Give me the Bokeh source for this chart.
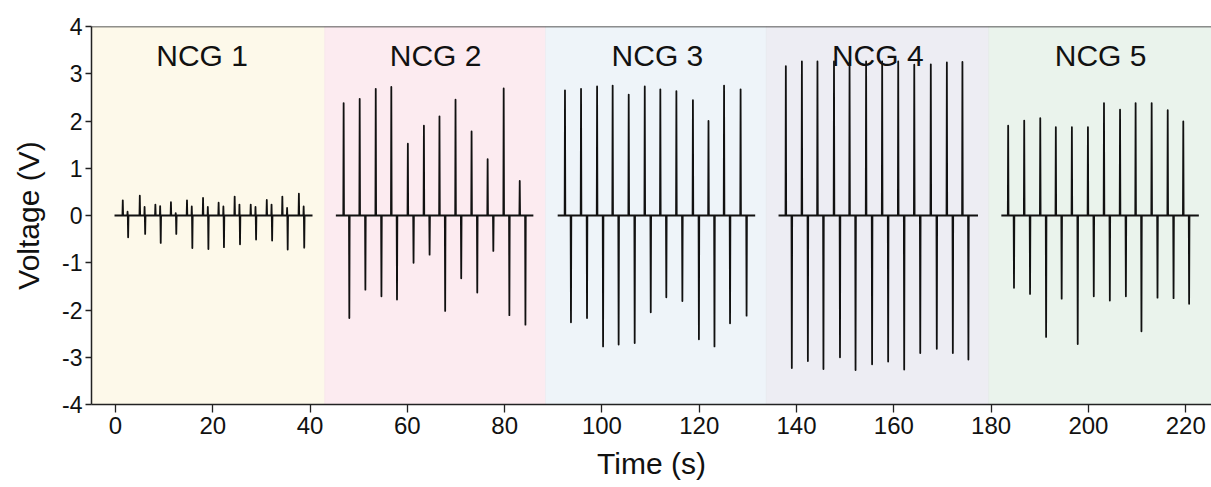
from bokeh.plotting import figure
from bokeh.models import ColumnDataSource, BoxAnnotation, Span, FixedTicker
from bokeh.core.properties import value
from bokeh.embed import file_html
from bokeh.resources import INLINE

# ---------------- data ----------------
panel_names = ["NCG 1", "NCG 2", "NCG 3", "NCG 4", "NCG 5"]
label_x = [17.8, 65.8, 111.4, 156.7, 202.5]
band_edges = [-5, 43.0, 88.4, 133.8, 179.5, 226]
band_colors = ["#fdf9ea", "#fcebf0", "#eef4f9", "#ededf3", "#eaf3ec"]
band_borders = ["#f3eedc", "#f1dce3", "#dfe6ec", "#dedee6", "#dbe6dd"]

baseline_start = [-0.2, 45.3, 90.9, 136.3, 182.1]
baseline_end = [40.5, 85.9, 131.5, 177.3, 222.7]
neg_lag = [1.1, 1.17, 1.23, 1.23, 1.2]

ncg1_t = [1.5, 5.0, 8.2, 11.4, 14.7, 18.0, 21.2, 24.5, 27.8, 31.1, 34.3, 37.7]
ncg1_pos = [0.32, 0.42, 0.23, 0.28, 0.32, 0.37, 0.27, 0.40, 0.23, 0.33, 0.40, 0.46]
ncg1_neg = [-0.46, -0.39, -0.58, -0.39, -0.69, -0.71, -0.67, -0.61, -0.51, -0.53, -0.72, -0.68]
ncg1_bump = [0.08, 0.18, 0.20, 0.05, 0.19, 0.18, 0.19, 0.23, 0.18, 0.23, 0.16, 0.19]

ncg2_t = [46.9, 50.2, 53.5, 56.7, 60.1, 63.4, 66.6, 69.9, 73.2, 76.5, 79.8, 83.1]
ncg2_pos = [2.38, 2.47, 2.68, 2.72, 1.52, 1.90, 2.10, 2.45, 1.78, 1.19, 2.69, 0.73]
ncg2_neg = [-2.17, -1.57, -1.71, -1.78, -1.00, -0.83, -2.02, -1.33, -1.63, -0.75, -2.11, -2.31]

ncg3_t = [92.4, 95.7, 99.0, 102.2, 105.5, 108.8, 112.0, 115.3, 118.7, 121.9, 125.1, 128.5]
ncg3_pos = [2.65, 2.68, 2.73, 2.75, 2.56, 2.73, 2.67, 2.63, 2.44, 2.00, 2.75, 2.67]
ncg3_neg = [-2.26, -2.17, -2.77, -2.73, -2.70, -2.05, -1.73, -1.81, -2.62, -2.77, -2.28, -2.12]

ncg4_t = [137.8, 141.1, 144.3, 147.7, 150.9, 154.3, 157.6, 160.9, 164.2, 167.6, 170.9, 174.1]
ncg4_pos = [3.16, 3.26, 3.26, 3.26, 3.24, 3.26, 3.26, 3.26, 3.19, 3.20, 3.24, 3.25]
ncg4_neg = [-3.23, -3.08, -3.25, -3.00, -3.27, -3.15, -3.09, -3.26, -2.91, -2.82, -2.91, -3.05]

ncg5_t = [183.5, 186.8, 190.1, 193.3, 196.6, 199.9, 203.2, 206.5, 209.7, 213.0, 216.3, 219.5]
ncg5_pos = [1.90, 2.01, 2.06, 1.87, 1.87, 1.87, 2.38, 2.24, 2.38, 2.38, 2.23, 1.99]
ncg5_neg = [-1.53, -1.66, -2.57, -1.76, -2.72, -1.71, -1.80, -1.71, -2.45, -1.74, -1.75, -1.87]

x_ticks = [0, 20, 40, 60, 80, 100, 120, 140, 160, 180, 200, 220]
y_ticks = [-4, -3, -2, -1, 0, 1, 2, 3, 4]

series = [
    (ncg1_t, ncg1_pos, ncg1_neg, ncg1_bump),
    (ncg2_t, ncg2_pos, ncg2_neg, None),
    (ncg3_t, ncg3_pos, ncg3_neg, None),
    (ncg4_t, ncg4_pos, ncg4_neg, None),
    (ncg5_t, ncg5_pos, ncg5_neg, None),
]

# ---------------- figure ----------------
FONT = "Liberation Sans"

p = figure(width=1211, height=487, x_range=(-4.93, 225.3), y_range=(-4, 4),
           output_backend="svg", toolbar_location=None,
           min_border_left=91, min_border_right=0, min_border_top=26,
           min_border_bottom=83)
p.outline_line_color = None
p.grid.visible = False
p.background_fill_color = "white"
p.border_fill_color = "white"

for i in range(5):
    p.add_layout(BoxAnnotation(left=band_edges[i], right=band_edges[i + 1],
                               fill_color=band_colors[i], fill_alpha=1.0,
                               line_color=band_borders[i], line_width=1,
                               level="underlay"))

p.add_layout(Span(location=4, dimension="width", line_color="#222222",
                  line_width=1.5))

def spike(xs, ys, t, v, w=0.07):
    xs += [t - w, t, t + w]
    ys += [0, v, 0]

for i, (ts, pos, neg, bump) in enumerate(series):
    xs = [baseline_start[i]]
    ys = [0]
    for k, t in enumerate(ts):
        spike(xs, ys, t, pos[k])
        tn = t + neg_lag[i]
        if bump is not None:
            spike(xs, ys, tn - 0.12, bump[k], 0.05)
        spike(xs, ys, tn, neg[k])
    xs.append(baseline_end[i])
    ys.append(0)
    src = ColumnDataSource(data=dict(x=xs, y=ys))
    p.line("x", "y", source=src, line_color="#111111", line_width=1.8,
           line_join="round")

lab_src = ColumnDataSource(data=dict(x=label_x, y=[3.39] * 5, t=panel_names))
p.text("x", "y", text="t", source=lab_src, text_align="center",
       text_baseline="alphabetic", text_font=value(FONT),
       text_font_size="30px", text_color="#111111")

# axes
for ax in (p.xaxis[0], p.yaxis[0]):
    ax.axis_line_color = "#222222"
    ax.axis_line_width = 1.5
    ax.major_tick_line_color = "#222222"
    ax.major_tick_line_width = 1.3
    ax.major_tick_in = 0
    ax.minor_tick_line_color = None
    ax.major_label_text_font = FONT
    ax.major_label_text_color = "#111111"
    ax.axis_label_text_font = FONT
    ax.axis_label_text_font_style = "normal"
    ax.axis_label_text_color = "#111111"
    ax.axis_label_text_font_size = "30px"

p.xaxis.ticker = FixedTicker(ticks=x_ticks)
p.yaxis.ticker = FixedTicker(ticks=y_ticks)
p.xaxis.major_label_overrides = {t: str(t) for t in x_ticks}
p.yaxis.major_label_overrides = {t: str(t) for t in y_ticks}
p.xaxis.major_tick_out = 8
p.yaxis.major_tick_out = 6
p.xaxis.major_label_text_font_size = "24px"
p.yaxis.major_label_text_font_size = "23px"
p.xaxis.major_label_standoff = 4
p.yaxis.major_label_standoff = 3
p.xaxis.axis_label = "Time (s)"
p.yaxis.axis_label = "Voltage (V)"
p.xaxis.axis_label_standoff = 10
p.yaxis.axis_label_standoff = 14

open("out.html", "w").write(file_html(p, INLINE))
